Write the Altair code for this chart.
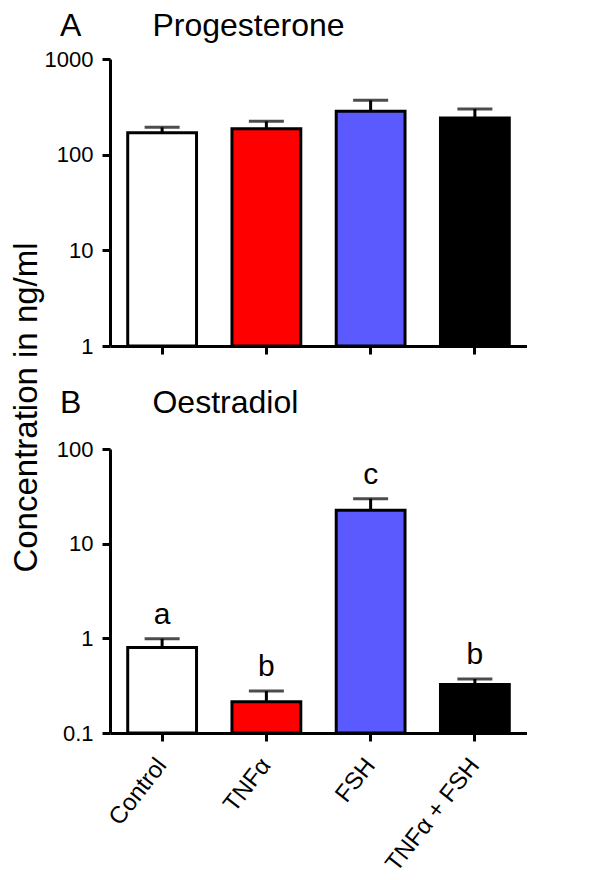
import altair as alt
import pandas as pd

categories = ["Control", "TNFα", "FSH", "TNFα + FSH"]
bar_colors = ["#FFFFFF", "#FF0000", "#5A5AFF", "#000000"]

prog_mean = [169, 187, 284, 242]
prog_upper = [193, 223, 370, 301]

oest_mean = [0.80, 0.214, 22.6, 0.326]
oest_upper = [0.99, 0.277, 29.9, 0.372]
oest_letters = ["a", "b", "c", "b"]

prog_ticks = [1, 10, 100, 1000]
oest_ticks = [0.1, 1, 10, 100]

FONT = "Liberation Sans"
NB = "\u00a0"


def panel(mean, upper, domain, ticks, letter, name, letters, show_labels, ytitle, height, toffset):
    df = pd.DataFrame({
        "cat": categories,
        "mean": mean,
        "upper": upper,
        "base": [domain[0]] * len(categories),
        "color": bar_colors,
        "letter": letters,
    })
    x = alt.X(
        "cat:N", sort=categories,
        scale=alt.Scale(paddingInner=0.34, paddingOuter=0.17),
        axis=alt.Axis(
            title=None, labels=show_labels, labelAngle=-52, labelAlign="right",
            labelBaseline="middle", labelFontSize=24, labelFont=FONT,
            labelColor="black", labelPadding=20, ticks=True, tickSize=8,
            tickWidth=3, tickColor="black", domainColor="black", domainWidth=3,
            labelLimit=0,
        ),
    )
    yscale = alt.Scale(type="log", domain=domain, nice=False)
    axis_kwargs = dict(
        values=ticks, format="~g", labelFontSize=22, labelFont=FONT,
        labelColor="black", labelPadding=9, tickSize=8, tickWidth=3,
        tickColor="black", domainColor="black", domainWidth=3, grid=False,
    )
    if ytitle:
        axis_kwargs.update(
            title="Concentration in ng/ml", titleFont=FONT, titleFontSize=33,
            titleFontWeight="normal", titleColor="black", titleX=-74,
            titleY=348, titleAngle=270, titleAlign="center",
            titleBaseline="alphabetic",
        )
    else:
        axis_kwargs.update(title=None)
    y = alt.Y("mean:Q", scale=yscale, axis=alt.Axis(**axis_kwargs))
    base = alt.Chart(df)
    rule = base.mark_rule(color="black", strokeWidth=3).encode(
        x=x, y=alt.Y("mean:Q", scale=yscale), y2="upper:Q")
    cap = base.mark_tick(color="black", thickness=3, size=35).encode(
        x=x, y=alt.Y("upper:Q", scale=yscale))
    bar = base.mark_bar(stroke="black", strokeWidth=3).encode(
        x=x, y=y, y2="base:Q", color=alt.Color("color:N", scale=None))
    layers = [rule, bar, cap]
    if any(letters):
        txt = base.mark_text(dy=-9, baseline="bottom", fontSize=30, font=FONT,
                             color="black").encode(
            x=x, y=alt.Y("upper:Q", scale=yscale), text="letter:N")
        layers.append(txt)
    return alt.layer(*layers).properties(
        width=417, height=height,
        title=alt.TitleParams(
            text=letter + NB * 8 + name, anchor="start", frame="group",
            dx=-50, fontSize=32, font=FONT, fontWeight="normal",
            color="black", offset=toffset,
        ),
    )


pA = panel(prog_mean, prog_upper, [1, 1000], prog_ticks, "A", "Progesterone",
           ["", "", "", ""], False, True, 287, 5)
pB = panel(oest_mean, oest_upper, [0.1, 100], oest_ticks, "B", "Oestradiol",
           oest_letters, True, False, 284, 18)

chart = alt.vconcat(pA, pB, spacing=103, bounds="flush").properties(
    padding={"left": 2, "right": 0, "top": 2, "bottom": 0}
).configure(background="white").configure_view(stroke=None, strokeWidth=0)

chart.save("out.html", embed_options={"renderer": "svg", "actions": False})
